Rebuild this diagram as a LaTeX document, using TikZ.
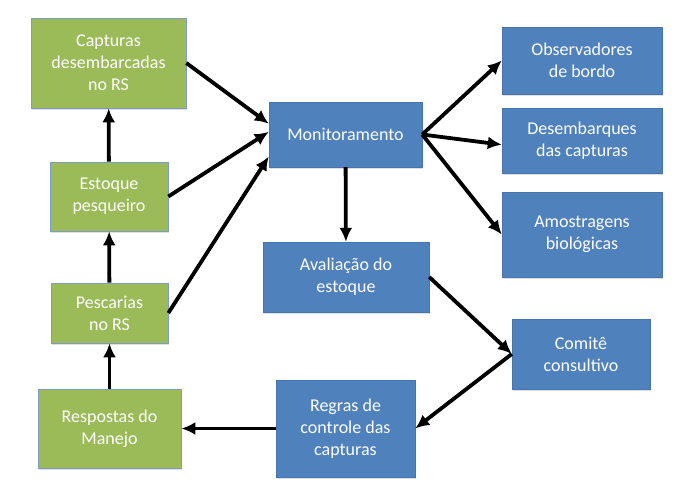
\documentclass[tikz,border=0pt]{standalone}
\usepackage{fontspec}
\setmainfont{Carlito}
\usetikzlibrary{arrows.meta,shadows}
\definecolor{mgreen}{RGB}{155,187,89}
\definecolor{mblue}{RGB}{79,129,189}
\definecolor{gedge}{RGB}{125,155,195}

\begin{document}
\begin{tikzpicture}[x=1pt, y=-1pt, >={Latex[length=14pt,width=13pt]},
  box/.style={align=center, text=white, inner sep=2pt,
    font=\fontsize{18}{22}\selectfont,
    drop shadow={shadow xshift=1pt, shadow yshift=-1.5pt, opacity=.25}},
  greenbox/.style={box, draw=gedge, line width=0.7pt, fill=mgreen},
  bluebox/.style={box, draw=mblue!90!black, line width=0.4pt, fill=mblue},
  flow/.style={->, line width=3.8pt}]
  \useasboundingbox (0,0) rectangle (688,496);
  % lado esquerdo: pescaria
  \node[greenbox, minimum width=155pt, minimum height=90pt] (cap) at (108.5,63) {Capturas\\desembarcadas\\no RS};
  \node[greenbox, minimum width=118pt, minimum height=69pt] (est) at (109,196.5) {Estoque\\pesqueiro};
  \node[greenbox, minimum width=117pt, minimum height=60pt] (pesc) at (109.5,313) {Pescarias\\no RS};
  \node[greenbox, minimum width=143pt, minimum height=79pt] (resp) at (109.5,428.5) {Respostas do\\Manejo};
  % centro
  \node[bluebox, minimum width=153pt, minimum height=65pt] (monit) at (345.5,134.5) {Monitoramento};
  \node[bluebox, minimum width=166pt, minimum height=70pt] (aval) at (346,277) {Avaliação do\\estoque};
  \node[bluebox, minimum width=139pt, minimum height=97pt] (regras) at (345.5,428.5) {Regras de\\controle das\\capturas};
  % lado direito
  \node[bluebox, minimum width=160pt, minimum height=67pt] (obs) at (582,60.5) {Observadores\\de bordo};
  \node[bluebox, minimum width=160pt, minimum height=65pt] (desemb) at (582,140.5) {Desembarques\\das capturas};
  \node[bluebox, minimum width=160pt, minimum height=85pt] (amost) at (582,234.5) {Amostragens\\biológicas};
  \node[bluebox, minimum width=138pt, minimum height=70pt] (comite) at (581,354) {Comitê\\consultivo};

  \draw[flow] (resp) -- (pesc);
  \draw[flow] (pesc) -- (est);
  \draw[flow] (est) -- (cap);
  \draw[flow] (cap.east) -- (monit.172);
  \draw[flow] (est.east) -- (monit.178);
  \draw[flow] (pesc.east) -- (monit.196);
  \draw[flow] (monit.east) -- (obs.west);
  \draw[flow] (monit.east) -- (desemb.183);
  \draw[flow] (monit.east) -- (amost.west);
  \draw[flow] (monit) -- (aval);
  \draw[flow] (aval.east) -- (comite.west);
  \draw[flow] (comite.west) -- (regras.east);
  \draw[flow] (regras) -- (resp);
\end{tikzpicture}
\end{document}
